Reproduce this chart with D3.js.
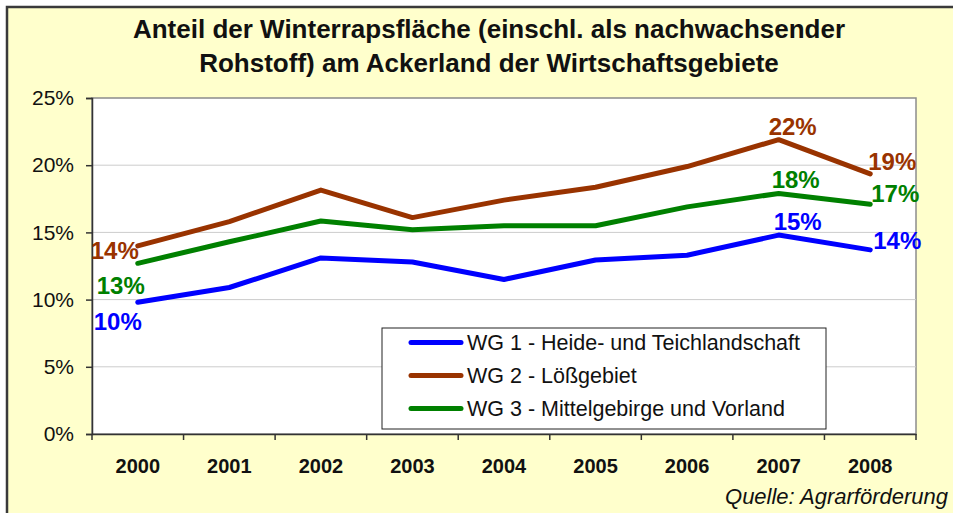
<!DOCTYPE html>
<html>
<head>
<meta charset="utf-8">
<script src="https://cdn.jsdelivr.net/npm/d3@7"></script>
<style>
  body { margin: 0; background: #fff; }
  svg { display: block; font-family: "Liberation Sans", Arial, sans-serif; }
</style>
</head>
<body>
<script>
const w = 953;
const h = 513;

// data (shares of arable land)
const years = ["2000", "2001", "2002", "2003", "2004", "2005", "2006", "2007", "2008"];
const wg1 = [0.098, 0.109, 0.131, 0.128, 0.115, 0.1295, 0.133, 0.148, 0.137];
const wg2 = [0.140, 0.158, 0.1815, 0.161, 0.174, 0.1836, 0.199, 0.219, 0.1935];
const wg3 = [0.127, 0.143, 0.1585, 0.152, 0.155, 0.155, 0.169, 0.179, 0.171];
const yTicks = [0, 0.05, 0.10, 0.15, 0.20, 0.25];
const seriesNames = ["WG 1 - Heide- und Teichlandschaft", "WG 2 - Lößgebiet", "WG 3 - Mittelgebirge und Vorland"];
const colors = ["#0000ff", "#993300", "#008000"];
const titleLines = ["Anteil der Winterrapsfläche (einschl. als nachwachsender", "Rohstoff) am Ackerland der Wirtschaftsgebiete"];

// label offsets per series for first, 2007 and last point
const labelOffsets = [
  { 0: [-20, 19], 7: [19, -14], 8: [27, -10] },
  { 0: [-23, 5], 7: [14, -13], 8: [22, -13] },
  { 0: [-17, 22], 7: [17, -14], 8: [25, -11] }
];

const margin = { left: 92, right: 916, top: 98, bottom: 434 };

const svg = d3.select("body")
  .append("svg")
  .attr("width", w)
  .attr("height", h);

// chart background with border
svg.append("rect")
  .attr("x", 7)
  .attr("y", 7)
  .attr("width", w + 10)
  .attr("height", h + 10)
  .attr("fill", "#ffffcc")
  .attr("stroke", "#3a3a3a")
  .attr("stroke-width", 2.5);

svg.selectAll(".title")
  .data(titleLines)
  .enter()
  .append("text")
  .attr("class", "title")
  .attr("x", 489)
  .attr("y", (d, i) => 38 + i * 34)
  .attr("text-anchor", "middle")
  .attr("font-size", "26px")
  .attr("font-weight", "bold")
  .attr("fill", "#111")
  .text(d => d);

const xScale = d3.scaleBand()
  .domain(years)
  .range([margin.left, margin.right]);

const yScale = d3.scaleLinear()
  .domain([0, 0.25])
  .range([margin.bottom, margin.top]);

// plot area
svg.append("rect")
  .attr("x", margin.left)
  .attr("y", margin.top)
  .attr("width", margin.right - margin.left)
  .attr("height", margin.bottom - margin.top)
  .attr("fill", "#fff")
  .attr("stroke", "#8c8c8c")
  .attr("stroke-width", 1.5);

svg.selectAll(".grid")
  .data(yTicks.slice(1, -1))
  .enter()
  .append("line")
  .attr("x1", margin.left)
  .attr("x2", margin.right)
  .attr("y1", d => yScale(d))
  .attr("y2", d => yScale(d))
  .attr("stroke", "#cccccc")
  .attr("stroke-width", 1);

const yAxis = d3.axisLeft(yScale)
  .tickValues(yTicks)
  .tickSize(6)
  .tickPadding(12)
  .tickFormat(d3.format(".0%"));

const gy = svg.append("g")
  .attr("transform", "translate(" + margin.left + ",0)")
  .call(yAxis);
gy.select(".domain").attr("stroke", "#333").attr("stroke-width", 1.5);
gy.selectAll(".tick line").attr("stroke", "#333").attr("stroke-width", 1.5);
gy.selectAll("text").attr("font-size", "21px").attr("fill", "#111").attr("font-family", "Liberation Sans, Arial, sans-serif");

const xAxis = d3.axisBottom(xScale)
  .tickSize(0)
  .tickPadding(25);

const gx = svg.append("g")
  .attr("transform", "translate(0," + margin.bottom + ")")
  .call(xAxis);
gx.select(".domain").attr("stroke", "#333").attr("stroke-width", 1.5);
gx.selectAll("text").attr("font-size", "20px").attr("font-weight", "bold").attr("fill", "#111").attr("font-family", "Liberation Sans, Arial, sans-serif");

// category boundary ticks
const bounds = years.map(d => xScale(d)).concat([xScale.range()[1]]);
gx.selectAll(".btick")
  .data(bounds)
  .enter()
  .append("line")
  .attr("x1", d => d)
  .attr("x2", d => d)
  .attr("y1", 0)
  .attr("y2", 6)
  .attr("stroke", "#333")
  .attr("stroke-width", 1.5);

const line = d3.line()
  .x((d, i) => xScale(years[i]) + xScale.bandwidth() / 2)
  .y(d => yScale(d));

const allSeries = [wg1, wg2, wg3];

allSeries.forEach((s, k) => {
  svg.append("path")
    .datum(s)
    .attr("fill", "none")
    .attr("stroke", colors[k])
    .attr("stroke-width", 5)
    .attr("stroke-linejoin", "round")
    .attr("stroke-linecap", "round")
    .attr("d", line);

  Object.keys(labelOffsets[k]).forEach(idx => {
    const i = +idx;
    const off = labelOffsets[k][idx];
    svg.append("text")
      .attr("x", xScale(years[i]) + xScale.bandwidth() / 2 + off[0])
      .attr("y", yScale(s[i]) + off[1])
      .attr("dy", "0.36em")
      .attr("text-anchor", "middle")
      .attr("font-size", "24px")
      .attr("font-weight", "bold")
      .attr("fill", colors[k])
      .text(d3.format(".0%")(s[i]));
  });
});

// legend
const legend = svg.append("g");
legend.append("rect")
  .attr("x", 382)
  .attr("y", 328)
  .attr("width", 444)
  .attr("height", 101)
  .attr("fill", "#fff")
  .attr("stroke", "#222")
  .attr("stroke-width", 1);

seriesNames.forEach((name, k) => {
  const ly = 342.5 + k * 33;
  legend.append("line")
    .attr("x1", 411)
    .attr("x2", 461)
    .attr("y1", ly)
    .attr("y2", ly)
    .attr("stroke", colors[k])
    .attr("stroke-width", 5)
    .attr("stroke-linecap", "round");
  legend.append("text")
    .attr("x", 467)
    .attr("y", ly)
    .attr("dy", "0.36em")
    .attr("font-size", "21.5px")
    .attr("fill", "#111")
    .text(name);
});

svg.append("text")
  .attr("x", 948)
  .attr("y", 504)
  .attr("text-anchor", "end")
  .attr("font-size", "22px")
  .attr("font-style", "italic")
  .attr("fill", "#111")
  .text("Quelle: Agrarförderung");
</script>
</body>
</html>
